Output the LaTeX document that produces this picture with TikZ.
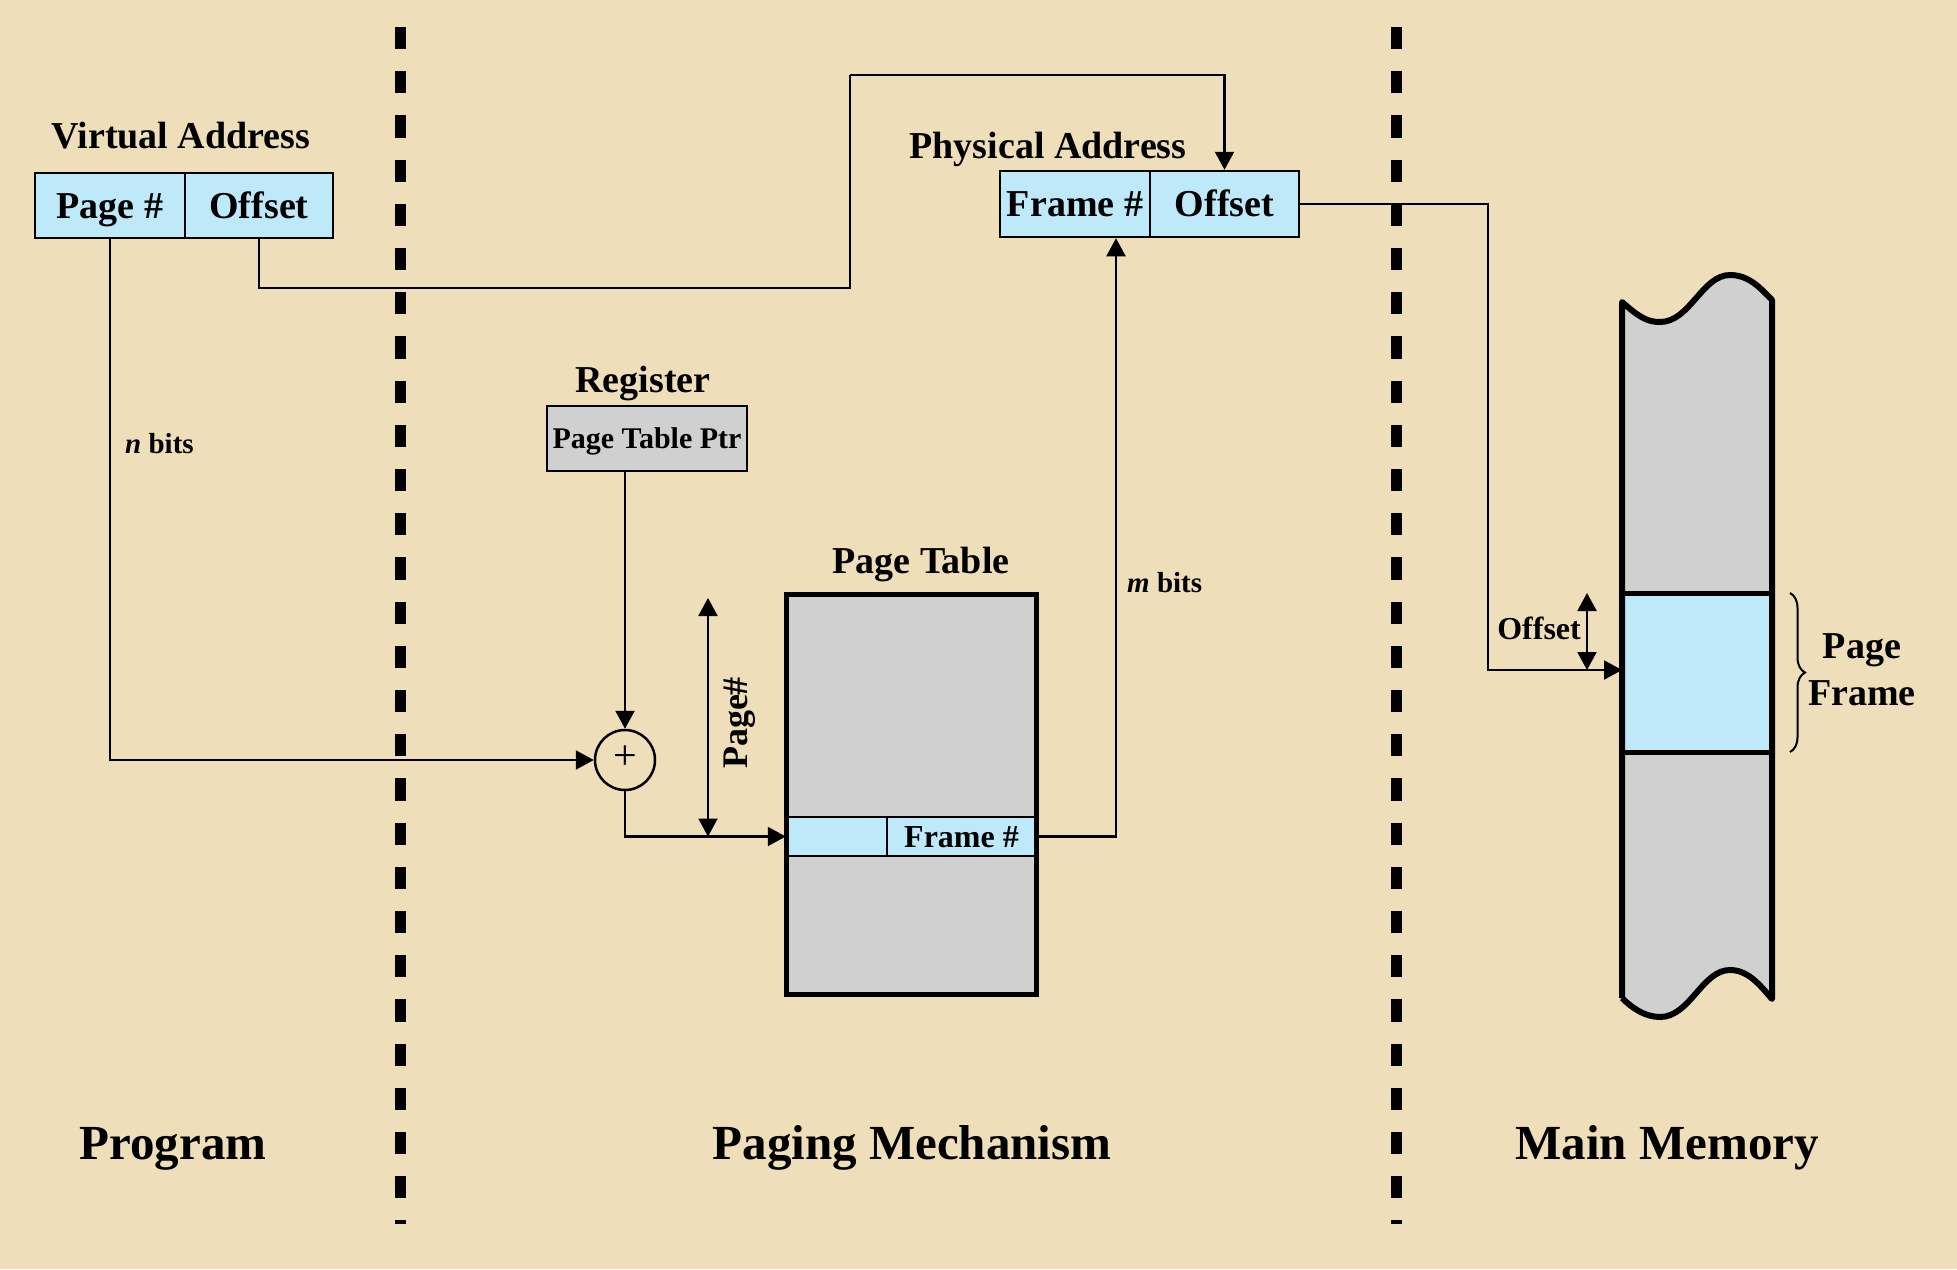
\documentclass[tikz,border=0pt]{standalone}
\usepackage{fontspec}
\setmainfont{Liberation Serif}
\usetikzlibrary{arrows.meta,decorations.pathreplacing,calc}
\definecolor{bg}{RGB}{238,222,186}
\definecolor{cellblue}{RGB}{190,233,249}
\definecolor{cellgray}{RGB}{208,208,208}
\begin{document}
\begin{tikzpicture}[x=1pt,y=-1pt,
  arr/.style={-{Triangle[length=18pt,width=19pt]}, line width=2.2pt},
  dbl/.style={{Triangle[length=18pt,width=19pt]}-{Triangle[length=18pt,width=19pt]}, line width=2.2pt},
  lab/.style={font=\fontsize{38}{44}\selectfont\bfseries, inner sep=0pt, anchor=base},
  big/.style={font=\fontsize{49}{56}\selectfont\bfseries, inner sep=0pt, anchor=base},
  small/.style={font=\fontsize{29}{34}\selectfont\bfseries, inner sep=0pt, anchor=base west},
  cell/.style={draw, line width=2.5pt, fill=cellblue, minimum height=65pt, inner sep=0pt,
    text height=25pt, text depth=0pt, font=\fontsize{38}{44}\selectfont\bfseries},
  divider/.style={line width=11pt, dash pattern=on 22.1pt off 22.1pt}
]
\useasboundingbox (0,0) rectangle (1957,1269);
\fill[bg] (0,0) rectangle (1957,1269);

% dashed separators
\coordinate (d1t) at (400,27);
\coordinate (d1b) at (400,1224);
\coordinate (d2t) at (1396,27);
\coordinate (d2b) at (1396,1224);
\draw[divider] (d1t) -- (d1b);
\draw[divider] (d2t) -- (d2b);

% virtual address
\node[lab] (valbl) at (181,148) {Virtual Address};
\node[cell, minimum width=150pt] (vpage) at (110,205.5) {Page \#};
\node[cell, minimum width=148pt] (vofs) at (259,205.5) {Offset};

% physical address
\node[lab] (palbl) at (1048,158) {Physical Address};
\node[cell, minimum width=150pt, minimum height=66pt] (pframe) at (1075,204) {Frame \#};
\node[cell, minimum width=149pt, minimum height=66pt] (pofs) at (1224.5,204) {Offset};

% register
\node[lab] (reglbl) at (643,392) {Register};
\node[draw, line width=2.5pt, fill=cellgray, minimum width=200pt, minimum height=65pt,
  inner sep=0pt, text height=20pt, text depth=0pt,
  font=\fontsize{30}{34}\selectfont\bfseries] (ptr) at (647,438.5) {Page Table Ptr};

% adder
\node[draw, circle, line width=2.5pt, minimum size=60pt, inner sep=0pt,
  text height=19pt, text depth=0pt, font=\fontsize{42}{42}\selectfont] (plus) at (625,760) {+};

% page table
\node[lab] (ptlbl) at (921,573) {Page Table};
\node[fill=cellgray, minimum width=249pt, minimum height=399pt, inner sep=0pt] (ptab) at (911.5,794.5) {};
\node[draw, line width=2.5pt, fill=cellblue, minimum width=100pt, minimum height=39pt, inner sep=0pt] (tleft) at (837,836.5) {};
\node[draw, line width=2.5pt, fill=cellblue, minimum width=149pt, minimum height=39pt, inner sep=0pt,
  text height=21pt, text depth=0pt, font=\fontsize{32}{36}\selectfont\bfseries] (tframe) at (961.5,836.5) {Frame \#};
\draw[line width=5pt] (ptab.north west) rectangle (ptab.south east);

% page# dimension
\coordinate (ptop) at (708,598);
\node[font=\fontsize{36}{40}\selectfont\bfseries, rotate=90, inner sep=0pt] (pglbl) at (740,723) {Page\#};

% connectors
\coordinate (o1) at (850,288);
\coordinate (o2) at (850,75);
\draw[line width=2.2pt] (vofs.south) |- (o1) -- (o2);
\draw[arr] (o2) -| (pofs.north);
\draw[arr] (vpage.south) |- (plus.west);
\draw[arr] (ptr.south -| plus.north) -- (plus.north);
\draw[arr] (plus.south) |- (tleft.west);
\draw[dbl] (ptop) -- (ptop |- tleft.west);
\draw[arr] (tframe.east) -| ([xshift=41pt]pframe.south);

\node[small] (nbits) at (125,453) {\textit{n} bits};
\node[small] (mbits) at (1127,592) {\textit{m} bits};

% main memory
\coordinate (memin) at (1622,670);
\coordinate (ftop) at (1587,593);
\fill[cellgray] (1622,302) .. controls (1640,318) and (1648,322) .. (1660,322)
  .. controls (1690,322) and (1702,275) .. (1730,275)
  .. controls (1750,275) and (1762,290) .. (1772,300)
  -- (1772,999) .. controls (1760,985) and (1748,970) .. (1730,970)
  .. controls (1702,970) and (1690,1017) .. (1660,1017)
  .. controls (1645,1017) and (1632,1008) .. (1622,998) -- cycle;
\fill[cellblue] (1622,593) rectangle (1772,752);
\draw[line width=5pt] (1622,593) -- (1772,593);
\draw[line width=5pt] (1622,752) -- (1772,752);
\draw[line width=6pt, line join=round] (1622,998) -- (1622,302) .. controls (1640,318) and (1648,322) .. (1660,322)
  .. controls (1690,322) and (1702,275) .. (1730,275)
  .. controls (1750,275) and (1762,290) .. (1772,300)
  -- (1772,999) .. controls (1760,985) and (1748,970) .. (1730,970)
  .. controls (1702,970) and (1690,1017) .. (1660,1017)
  .. controls (1645,1017) and (1632,1008) .. (1622,998);

\draw[arr] (pofs.east) -| ($(memin)+(-134,0)$) -- (memin);
\draw[dbl] (ftop) -- (ftop |- memin);
\node[font=\fontsize{32}{36}\selectfont\bfseries, inner sep=0pt, anchor=base east] (offlbl) at (1581,639) {Offset};

\coordinate (bt) at (1790,593);
\coordinate (bb) at (1790,752);
\draw[line width=2pt, decorate, decoration={brace, amplitude=15pt}] (bt) -- (bb);
\node[lab] (pflbl1) at (1862,658) {Page};
\node[lab] (pflbl2) at (1862,705) {Frame};

% bottom labels
\node[big] (prog) at (173,1159) {Program};
\node[big] (pmech) at (912,1159) {Paging Mechanism};
\node[big] (mmem) at (1667,1159) {Main Memory};
\end{tikzpicture}
\end{document}
